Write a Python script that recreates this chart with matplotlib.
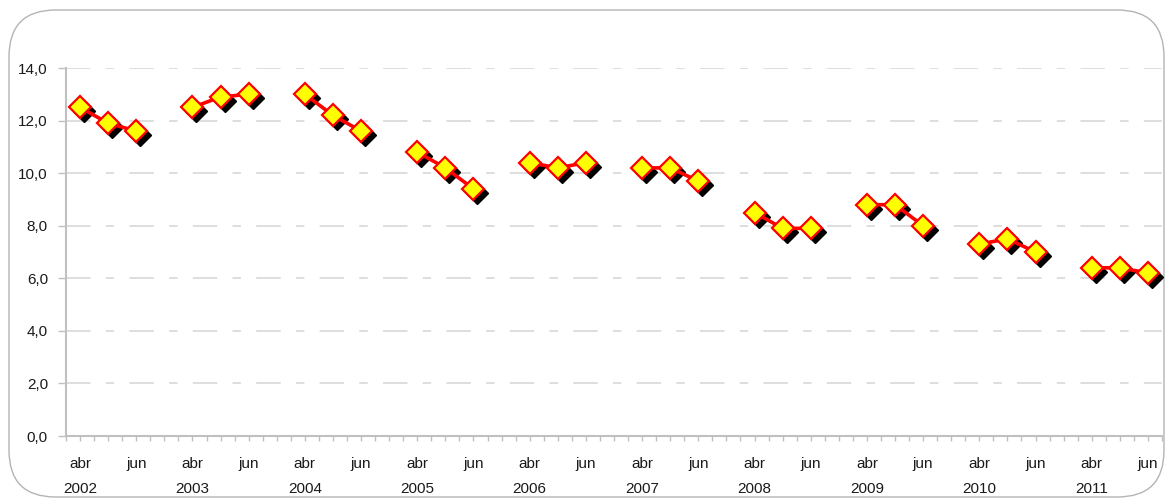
import matplotlib.pyplot as plt
import matplotlib.transforms as mtransforms
from matplotlib.patches import FancyBboxPatch
from matplotlib.ticker import FuncFormatter, MultipleLocator

plt.rcParams["font.family"] = ["Liberation Sans", "DejaVu Sans"]

years = ["2002", "2003", "2004", "2005", "2006", "2007", "2008", "2009", "2010", "2011"]
months = ["abr", "mai", "jun"]
values = [
    [12.5, 11.9, 11.6],
    [12.5, 12.9, 13.0],
    [13.0, 12.2, 11.6],
    [10.8, 10.2, 9.4],
    [10.4, 10.2, 10.4],
    [10.2, 10.2, 9.7],
    [8.5, 7.9, 7.9],
    [8.8, 8.8, 8.0],
    [7.3, 7.5, 7.0],
    [6.4, 6.4, 6.2],
]

fig = plt.figure(figsize=(11.65, 4.99), dpi=100)

# rounded chart frame, behind the axes
frame = FancyBboxPatch((9 / 1165, 2 / 499), 1155 / 1165, 487 / 499,
                       boxstyle="round,pad=0,rounding_size=0.04",
                       transform=fig.transFigure, facecolor="none",
                       edgecolor="#b4b4b4", linewidth=1.0,
                       mutation_aspect=1165 / 499, zorder=-1)
fig.patches.append(frame)

ax = fig.add_axes([66 / 1165, 1 - 436 / 499, (1162 - 66) / 1165, (436 - 68) / 499])
ax.set_facecolor("none")
ax.set_zorder(2)

shadow = mtransforms.offset_copy(ax.transData, fig=fig, x=4, y=-4, units="dots")

gap = 4  # 3 months + one empty slot per year
for k, yr_vals in enumerate(values):
    xs = [k * gap + j for j in range(len(months))]
    ax.plot(xs, yr_vals, linestyle="none", marker="D", markersize=11.5,
            color="black", transform=shadow, zorder=3, clip_on=False)
    ax.plot(xs, yr_vals, color="red", linewidth=2.6, zorder=4)
    ax.plot(xs, yr_vals, linestyle="none", marker="D", markersize=11.5,
            markerfacecolor="yellow", markeredgecolor="red",
            markeredgewidth=1.6, zorder=5, clip_on=False)

n_cat = len(years) * gap - 1
ax.set_xlim(-0.5, n_cat - 0.5)
ax.set_ylim(0, 14)

# y axis
ax.yaxis.set_major_locator(MultipleLocator(2))
ax.yaxis.set_major_formatter(FuncFormatter(lambda v, p: f"{v:.1f}".replace(".", ",")))
ax.tick_params(axis="y", length=6, width=1, color="#c0c0c0", pad=7,
               labelsize=11, labelcolor="#1a1a1a")
ax.grid(axis="y", color="#d4d4d4", linewidth=1.1, dashes=(16, 10, 5.5, 10))

# x axis: labels for abr and jun of each year
xticks, xlabels = [], []
for k in range(len(years)):
    xticks += [k * gap, k * gap + 2]
    xlabels += [months[0], months[2]]
ax.set_xticks(xticks)
ax.set_xticklabels(xlabels)
ax.xaxis.set_minor_locator(MultipleLocator(0.5))
ax.tick_params(axis="x", which="both", length=3.6, width=1, color="#c0c0c0")
ax.tick_params(axis="x", which="major", pad=11.5, labelsize=11,
               labelcolor="#1a1a1a")
for k, yr in enumerate(years):
    ax.annotate(yr, xy=(k * gap, 0), xycoords=("data", "axes fraction"),
                xytext=(0, -33), textcoords="offset points",
                ha="center", va="top", fontsize=11, color="#1a1a1a")

for side in ["top", "right"]:
    ax.spines[side].set_visible(False)
for side in ["left", "bottom"]:
    ax.spines[side].set_color("#c0c0c0")
    ax.spines[side].set_linewidth(1.5)

fig.savefig("out.png", dpi=100)
